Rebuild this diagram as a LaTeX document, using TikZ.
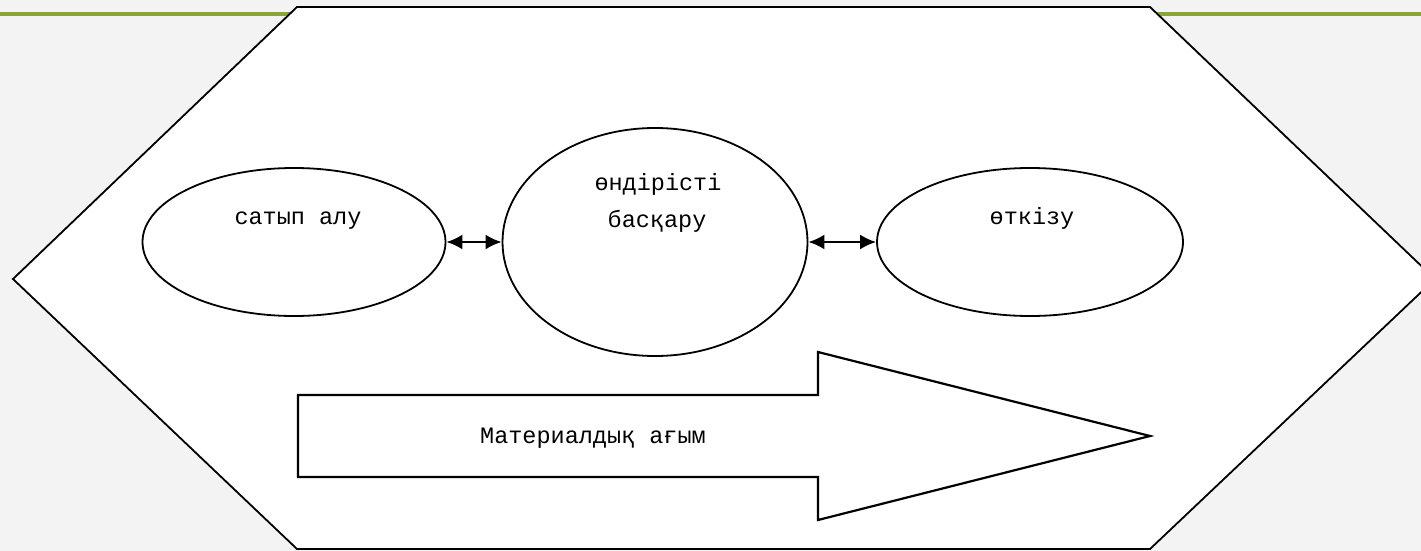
\documentclass[tikz,border=0pt]{standalone}
\usepackage{fontspec}
\setmainfont{Liberation Mono}
\usetikzlibrary{shapes.geometric,arrows.meta}
\definecolor{bggray}{HTML}{F3F3F3}
\definecolor{topgreen}{HTML}{8AA537}
\begin{document}
\begin{tikzpicture}[x=1pt,y=-1pt,
  oval/.style={ellipse,draw,line width=1.8pt,fill=white,inner sep=0pt},
  link/.style={line width=2.2pt,{Latex[length=16pt,width=15pt]}-{Latex[length=16pt,width=15pt]}},
  lbl/.style={font=\fontsize{23.5}{30}\selectfont,anchor=base,inner sep=0pt}]
\useasboundingbox (0,0) rectangle (1421,551);
\clip (0,0) rectangle (1421,551);
\fill[bggray] (0,0) rectangle (1421,551);
\draw[topgreen,line width=3.5pt] (0,14) -- (1421,14);
\draw[line width=1.8pt,fill=white] (297,7) -- (1150,7) -- (1435,279) -- (1150,549) -- (297,549) -- (13,279) -- cycle;
% ellipses
\node[oval,minimum width=303pt,minimum height=148pt] (buy) at (294,242) {};
\node[oval,minimum width=305pt,minimum height=228pt] (prod) at (655,242) {};
\node[oval,minimum width=306pt,minimum height=148pt] (sell) at (1030,242) {};
\node[lbl] (buyt) at (298,224) {сатып алу};
\node[lbl] (prodt1) at (658,190) {өндірісті};
\node[lbl] (prodt2) at (657,227) {басқару};
\node[lbl] (sellt) at (1032,224) {өткізу};
\draw[link] (buy.east) -- (prod.west);
\draw[link] (prod.east) -- (sell.west);
% big arrow
\draw[line width=2.2pt,fill=white,line join=miter] (298,395) -- (818,395) -- (818,352) -- (1150,436) -- (818,520) -- (818,477) -- (298,477) -- cycle;
\node[lbl] (flow) at (593,443) {Материалдық ағым};
\end{tikzpicture}
\end{document}
